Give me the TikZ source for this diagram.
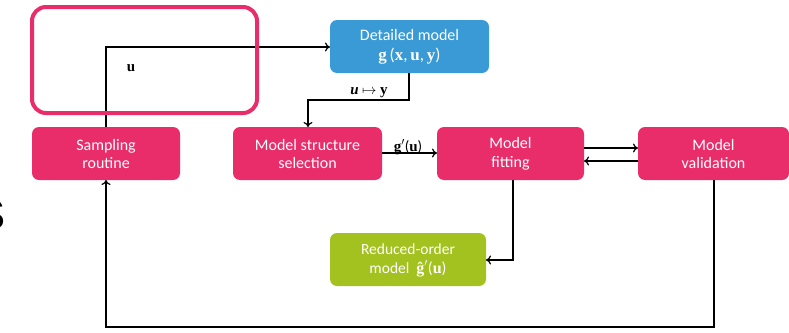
\documentclass[tikz,border=0pt]{standalone}
\usepackage{amsmath}
\usepackage[no-math]{fontspec}
\setmainfont{Carlito}
\newfontfamily\bigsans{Liberation Sans}
\newfontfamily\tms{Liberation Serif}
\newcommand{\tb}[1]{{\tms\bfseries #1}}
\newcommand{\tbi}[1]{{\tms\bfseries\itshape #1}}
\usetikzlibrary{arrows.meta}
\definecolor{pinkc}{HTML}{E82D6A}
\definecolor{bluec}{HTML}{3A9AD6}
\definecolor{greenc}{HTML}{A3C21F}
\tikzset{
  boxbase/.style={rounded corners=7pt, text=white, align=center, inner sep=0pt,
    font=\fontsize{16}{18.5}\selectfont},
  pinkbox/.style={boxbase, fill=pinkc},
  bluebox/.style={boxbase, fill=bluec},
  greenbox/.style={boxbase, fill=greenc, font=\fontsize{15.5}{19}\selectfont},
  conn/.style={line width=2.3pt, -{To[length=5pt,width=9pt,line width=1.2pt]}},
  lbl/.style={font=\fontsize{15}{16}\selectfont, inner sep=1pt}
}
\begin{document}
\begin{tikzpicture}[x=1pt,y=-1pt]
\useasboundingbox (0,0) rectangle (789,332);
% stray letter at left edge
\node[font=\bigsans\fontsize{42}{42}\selectfont, anchor=east] (s) at (9,215) {S};
% boxes
\path[pinkbox] (32,127) rectangle (180,180);
\node[boxbase] (samp) at (106,154) {Sampling\\routine};
\path[pinkbox] (233,127) rectangle (382,180);
\node[boxbase] (sel) at (307.5,154) {Model structure\\selection};
\path[pinkbox] (437,127) rectangle (584,180);
\node[boxbase] (fit) at (510.5,154) {Model\\fitting};
\path[pinkbox] (638,127) rectangle (789,180);
\node[boxbase] (val) at (713.5,154) {Model\\validation};
\path[bluebox] (330,20) rectangle (489,73);
\node[boxbase] (det) at (409.5,47) {Detailed model\\[1pt]{\fontsize{17}{18}\selectfont\tb{g}\,(\tb{x},\,\tb{u},\,\tb{y})}};
\path[greenbox] (330,233) rectangle (486,286);
\node[greenbox] (red) at (408,260) {Reduced-order\\model\ \ {\fontsize{16}{18}\selectfont\tb{\^{g}}$'$(\tb{u})}};
% named anchor coordinates for box edges
\coordinate (sampT) at (106,127);
\coordinate (sampB) at (106,180);
\coordinate (detL) at (330,47);
\coordinate (detB) at (409,73);
\coordinate (selT) at (308,127);
\coordinate (selR) at (382,153);
\coordinate (fitL) at (437,153);
\coordinate (fitR1) at (584,148);
\coordinate (valL1) at (638,148);
\coordinate (valL2) at (638,161);
\coordinate (fitR2) at (584,161);
\coordinate (fitB) at (513,180);
\coordinate (redR) at (486,260);
\coordinate (valB) at (714,180);
% connectors
\draw[conn] (sampT) |- (detL);
\node[lbl] (ulbl) at (131,68) {\tb{u}};
\draw[conn] (detB) -- (409,100) -| (selT);
\node[lbl] (uy) at (369,93) {\tbi{u} $\mapsto$ \tb{y}};
\draw[conn] (selR) -- (fitL);
\node[lbl] (gp) at (408,147) {\tb{g}$'$(\tb{u})};
\draw[conn] (fitR1) -- (valL1);
\draw[conn] (valL2) -- (fitR2);
\draw[conn] (fitB) |- (redR);
\draw[conn] (valB) -- (714,327) -| (sampB);
% highlight frame
\draw[pinkc, line width=4pt, rounded corners=14pt] (32,7) rectangle (257,113);
\end{tikzpicture}
\end{document}
